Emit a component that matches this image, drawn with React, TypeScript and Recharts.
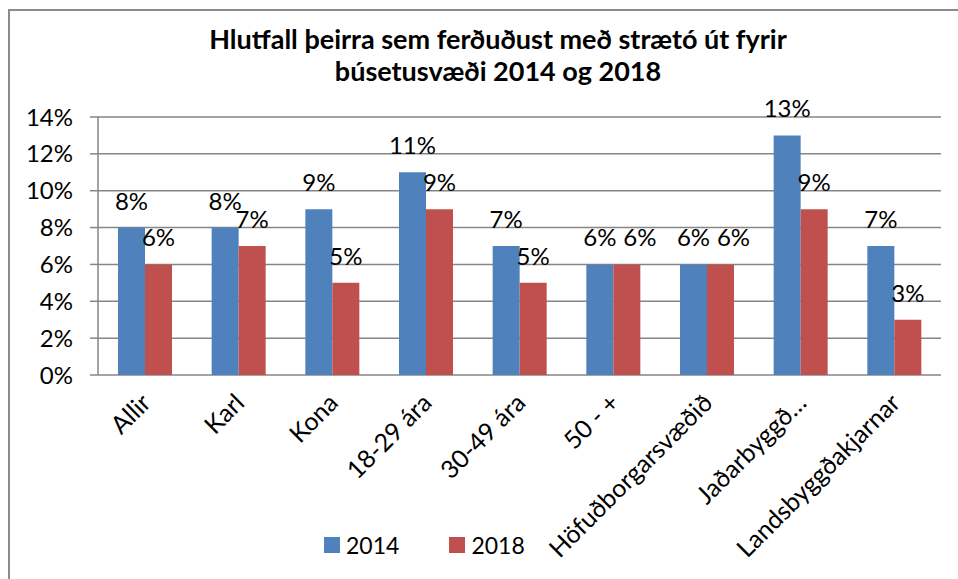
import React from 'react'
import {
  BarChart,
  Bar,
  XAxis,
  YAxis,
  CartesianGrid,
  LabelList,
} from 'recharts'

const categories = [
  'Allir',
  'Karl',
  'Kona',
  '18-29 ára',
  '30-49 ára',
  '50 - +',
  'Höfuðborgarsvæðið',
  'Jaðarbyggð…',
  'Landsbyggðakjarnar',
]
const values2014 = [8, 8, 9, 11, 7, 6, 6, 13, 7]
const values2018 = [6, 7, 5, 9, 5, 6, 6, 9, 3]
const yTicks = [0, 2, 4, 6, 8, 10, 12, 14]

const BLUE = '#4F81BD'
const RED = '#C0504D'
const GRID = '#868686'
const FONT = 'Lato, "Open Sans", sans-serif'
const LABEL_SIZE = 24

const data = categories.map((name, i) => ({
  name,
  y2014: values2014[i],
  y2018: values2018[i],
}))

const edgeTicks = categories.map((_, i) => i).concat(categories.length)

// rotated category labels, end-anchored just below the axis
const CategoryTick = ({ x, y, payload }: any) => (
  <g transform={`translate(${x + 3},${y + 17})`}>
    <text
      transform="rotate(-45)"
      textAnchor="end"
      dominantBaseline="middle"
      fontSize={25}
      fontFamily={FONT}
      fill="#000"
    >
      {payload.value}
    </text>
  </g>
)

// value label above a bar; the 2018 label steps aside when it would sit on the 2014 one
const makeValueLabel = (other: number[] | null) => (props: any) => {
  const { x, y, width, value, index } = props
  const shift = other && other[index] === value ? 13 : 0
  return (
    <text
      x={x + width / 2 + shift}
      y={y - 18}
      textAnchor="middle"
      fontSize={LABEL_SIZE}
      fontFamily={FONT}
      fill="#000"
    >
      {`${value}%`}
    </text>
  )
}

const LegendItem = ({ color, label }: { color: string; label: string }) => (
  <div style={{ display: 'flex', alignItems: 'center', gap: 6 }}>
    <div style={{ width: 16, height: 16, background: color }} />
    <span style={{ fontSize: 23, fontFamily: FONT, color: '#000' }}>{label}</span>
  </div>
)

export default function App() {
  return (
    <div
      style={{
        position: 'absolute',
        left: 0,
        top: 0,
        width: 958,
        height: 579,
        background: '#fff',
        overflow: 'hidden',
      }}
    >
      <div
        style={{
          position: 'absolute',
          left: 8,
          top: 9,
          width: 960,
          height: 580,
          borderTop: '2px solid #8c8c8c',
          borderLeft: '2px solid #8c8c8c',
        }}
      />
      <div
        style={{
          position: 'absolute',
          left: 0,
          top: 23,
          width: 996,
          textAlign: 'center',
          fontFamily: FONT,
          fontWeight: 'bold',
          fontSize: 27,
          lineHeight: '32px',
          color: '#000',
        }}
      >
        Hlutfall þeirra sem ferðuðust með strætó út fyrir
        <br />
        búsetusvæði 2014 og 2018
      </div>
      <div style={{ position: 'absolute', left: 0, top: 0 }}>
        <BarChart
          width={958}
          height={579}
          data={data}
          margin={{ top: 117, right: 17, bottom: 0, left: 0 }}
          barSize={27}
          barGap={0}
        >
          <CartesianGrid
            xAxisId="cat"
            vertical={false}
            stroke={GRID}
            strokeWidth={1.5}
          />
          <XAxis
            xAxisId="edge"
            type="number"
            domain={[0, categories.length]}
            ticks={edgeTicks}
            allowDataOverflow
            tick={false}
            tickSize={8}
            height={0}
            axisLine={{ stroke: GRID, strokeWidth: 1.5 }}
            tickLine={{ stroke: GRID, strokeWidth: 1.5 }}
          />
          <XAxis
            xAxisId="cat"
            dataKey="name"
            interval={0}
            axisLine={false}
            tickLine={false}
            height={204}
            tick={<CategoryTick />}
          />
          <YAxis
            width={98}
            domain={[0, 14]}
            ticks={yTicks}
            tickFormatter={(v) => `${v}%`}
            tickSize={8}
            tickMargin={17}
            axisLine={{ stroke: GRID, strokeWidth: 1.5 }}
            tickLine={{ stroke: GRID, strokeWidth: 1.5 }}
            tick={{ fontSize: 24, fill: '#000', fontFamily: FONT }}
          />
          <Bar xAxisId="cat" dataKey="y2014" fill={BLUE} isAnimationActive={false}>
            <LabelList dataKey="y2014" content={makeValueLabel(null)} />
          </Bar>
          <Bar xAxisId="cat" dataKey="y2018" fill={RED} isAnimationActive={false}>
            <LabelList dataKey="y2018" content={makeValueLabel(values2014)} />
          </Bar>
        </BarChart>
      </div>
      <div
        style={{
          position: 'absolute',
          left: 324,
          top: 531,
          display: 'flex',
          gap: 50,
        }}
      >
        <LegendItem color={BLUE} label="2014" />
        <LegendItem color={RED} label="2018" />
      </div>
    </div>
  )
}
